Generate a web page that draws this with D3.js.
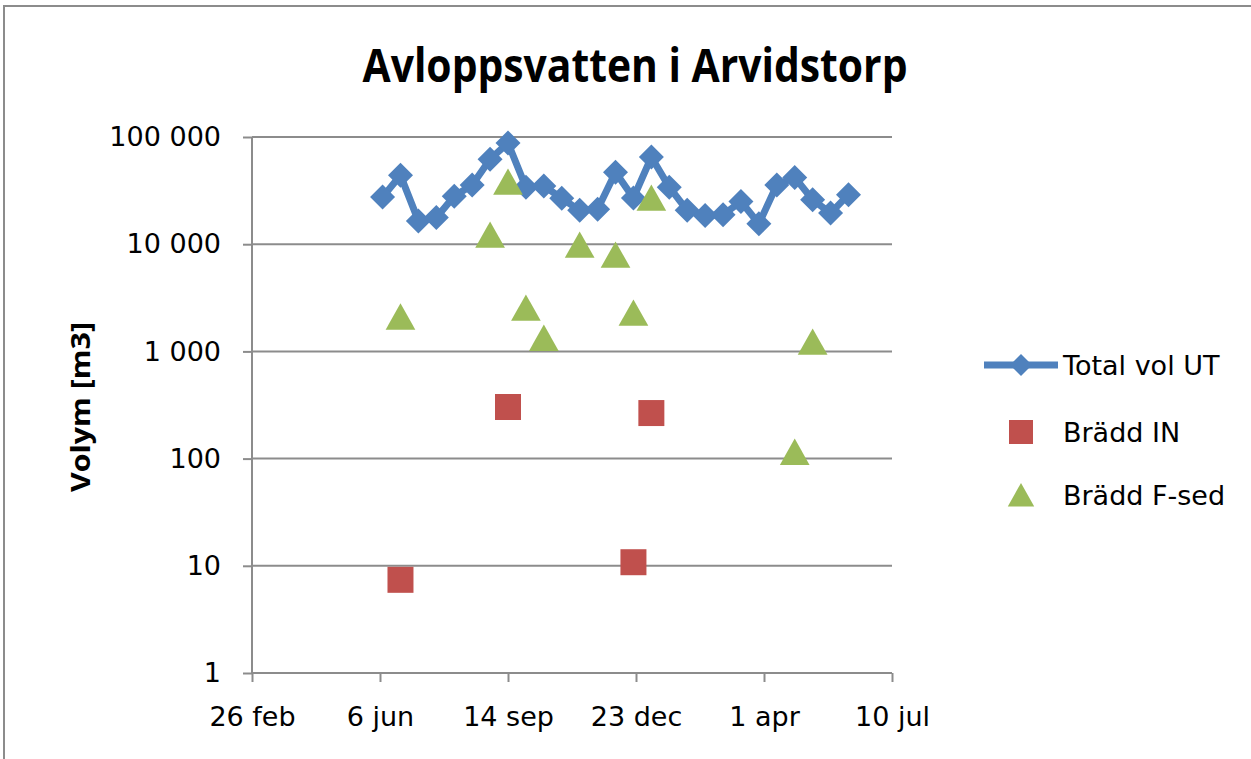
<!DOCTYPE html>
<html>
<head>
<meta charset="utf-8">
<script src="https://cdn.jsdelivr.net/npm/d3@7"></script>
<style>
  body { margin: 0; background: #fff; }
  svg { display: block; }
</style>
</head>
<body>
<div id="chart"></div>
<script>
// data
var totalDates = ["2011-06-08","2011-06-22","2011-07-06","2011-07-20","2011-08-03","2011-08-17","2011-08-31",
  "2011-09-14","2011-09-28","2011-10-12","2011-10-26","2011-11-09","2011-11-23","2011-12-07","2011-12-21",
  "2012-01-04","2012-01-18","2012-02-01","2012-02-15","2012-02-29","2012-03-14","2012-03-28","2012-04-11",
  "2012-04-25","2012-05-09","2012-05-23","2012-06-06"];
var totalVol = [27500, 44000, 16500, 17700, 28000, 35600, 62000, 88000, 34000, 35000, 26800, 20700, 21200,
  47000, 27000, 65000, 34000, 20700, 18500, 18800, 25000, 15500, 35600, 42000, 26000, 19500, 29000];

var inDates = ["2011-06-22","2011-09-14","2011-12-21","2012-01-04"];
var inVol = [7.4, 303, 10.8, 266];

var fsedDates = ["2011-06-22","2011-08-31","2011-09-14","2011-09-28","2011-10-12","2011-11-09","2011-12-07",
  "2011-12-21","2012-01-04","2012-04-25","2012-05-09"];
var fsedVol = [2100, 12200, 38000, 2540, 1330, 9840, 7940, 2280, 27000, 115, 1224];

var xTickDates = ["2011-02-26","2011-06-06","2011-09-14","2011-12-23","2012-04-01","2012-07-10"];
var xTickLabels = ["26 feb","6 jun","14 sep","23 dec","1 apr","10 jul"];
var yTicks = [1, 10, 100, 1000, 10000, 100000];
var yTickLabels = ["1","10","100","1 000","10 000","100 000"];
var seriesNames = ["Total vol UT","Brädd IN","Brädd F-sed"];

var W = 1251, H = 759;
var blue = "#4f81bd", red = "#c0504d", green = "#9bbb59", grey = "#8c8c8c";
var tickFont = "DejaVu Sans, Verdana, sans-serif";

var parse = d3.utcParse("%Y-%m-%d");

var svg = d3.select("#chart").append("svg")
  .attr("width", W)
  .attr("height", H);

// chart frame (only top/left edges fall inside the picture)
svg.append("rect")
  .attr("x", 4).attr("y", 6)
  .attr("width", 1400).attr("height", 900)
  .attr("fill", "none")
  .attr("stroke", grey)
  .attr("stroke-width", 2);

var x = d3.scaleUtc()
  .domain([parse(xTickDates[0]), parse(xTickDates[xTickDates.length - 1])])
  .range([252, 892]);

var y = d3.scaleLog()
  .domain([1, 100000])
  .range([673, 137]);

// title
svg.append("text")
  .attr("x", 635).attr("y", 82)
  .attr("text-anchor", "middle")
  .attr("font-family", "Open Sans, sans-serif")
  .attr("font-weight", "bold")
  .attr("font-size", 46)
  .attr("textLength", 545)
  .attr("lengthAdjust", "spacingAndGlyphs")
  .text("Avloppsvatten i Arvidstorp");

// horizontal gridlines
svg.append("g").selectAll("line")
  .data(yTicks.slice(1))
  .enter().append("line")
  .attr("x1", x.range()[0]).attr("x2", x.range()[1])
  .attr("y1", function(d) { return y(d); })
  .attr("y2", function(d) { return y(d); })
  .attr("stroke", grey)
  .attr("stroke-width", 2);

// y axis
var yAxis = svg.append("g")
  .attr("transform", "translate(252,0)")
  .call(d3.axisLeft(y)
    .tickValues(yTicks)
    .tickFormat(function(d, i) { return yTickLabels[i]; })
    .tickSize(9)
    .tickPadding(22));

// x axis
var xAxis = svg.append("g")
  .attr("transform", "translate(0,673)")
  .call(d3.axisBottom(x)
    .tickValues(xTickDates.map(parse))
    .tickFormat(function(d, i) { return xTickLabels[i]; })
    .tickSize(9)
    .tickPadding(25));

[yAxis, xAxis].forEach(function(ax) {
  ax.selectAll(".domain, .tick line")
    .attr("stroke", grey)
    .attr("stroke-width", 2);
  ax.selectAll("text")
    .attr("font-family", tickFont)
    .attr("font-size", 27)
    .attr("fill", "#000");
});
yAxis.select(".domain").attr("d", "M0,673V137");
xAxis.select(".domain").attr("d", "M252,0H892");

// y axis title
svg.append("text")
  .attr("transform", "translate(90,407) rotate(-90)")
  .attr("text-anchor", "middle")
  .attr("font-family", "Open Sans, sans-serif")
  .attr("font-weight", "bold")
  .attr("font-size", 27)
  .attr("textLength", 170)
  .attr("lengthAdjust", "spacingAndGlyphs")
  .text("Volym [m3]");

// marker shapes
function diamond(s) { return "M0," + (-s) + "L" + s + ",0L0," + s + "L" + (-s) + ",0Z"; }
function square(s) { return "M" + (-s) + "," + (-s) + "h" + (2 * s) + "v" + (2 * s) + "h" + (-2 * s) + "Z"; }
function triangle(s) { return "M0," + (-s) + "L" + (s * 1.1) + "," + (s * 0.95) + "L" + (-s * 1.1) + "," + (s * 0.95) + "Z"; }

// Total vol UT
var totalData = totalDates.map(function(d, i) { return { date: parse(d), v: totalVol[i] }; });
var line = d3.line()
  .x(function(d) { return x(d.date); })
  .y(function(d) { return y(d.v); });

svg.append("path")
  .datum(totalData)
  .attr("d", line)
  .attr("fill", "none")
  .attr("stroke", blue)
  .attr("stroke-width", 7)
  .attr("stroke-linejoin", "round");

svg.append("g").selectAll("path")
  .data(totalData)
  .enter().append("path")
  .attr("transform", function(d) { return "translate(" + x(d.date) + "," + y(d.v) + ")"; })
  .attr("d", diamond(12.5))
  .attr("fill", blue);

// Brädd F-sed
svg.append("g").selectAll("path")
  .data(fsedDates.map(function(d, i) { return { date: parse(d), v: fsedVol[i] }; }))
  .enter().append("path")
  .attr("transform", function(d) { return "translate(" + x(d.date) + "," + y(d.v) + ")"; })
  .attr("d", triangle(13.5))
  .attr("fill", green);

// Brädd IN
svg.append("g").selectAll("path")
  .data(inDates.map(function(d, i) { return { date: parse(d), v: inVol[i] }; }))
  .enter().append("path")
  .attr("transform", function(d) { return "translate(" + x(d.date) + "," + y(d.v) + ")"; })
  .attr("d", square(13))
  .attr("fill", red);

// legend
var legend = svg.append("g").attr("transform", "translate(1021,0)");
var legendY = [365, 432, 495];

legend.append("line")
  .attr("x1", -37).attr("x2", 37)
  .attr("y1", legendY[0]).attr("y2", legendY[0])
  .attr("stroke", blue)
  .attr("stroke-width", 7);
legend.append("path")
  .attr("transform", "translate(0," + legendY[0] + ")")
  .attr("d", diamond(11))
  .attr("fill", blue);
legend.append("path")
  .attr("transform", "translate(0," + legendY[1] + ")")
  .attr("d", square(12))
  .attr("fill", red);
legend.append("path")
  .attr("transform", "translate(0," + legendY[2] + ")")
  .attr("d", triangle(12))
  .attr("fill", green);

legend.selectAll("text")
  .data(seriesNames)
  .enter().append("text")
  .attr("x", 42)
  .attr("y", function(d, i) { return legendY[i]; })
  .attr("dy", "0.36em")
  .attr("font-family", tickFont)
  .attr("font-size", 27)
  .text(function(d) { return d; });
</script>
</body>
</html>
